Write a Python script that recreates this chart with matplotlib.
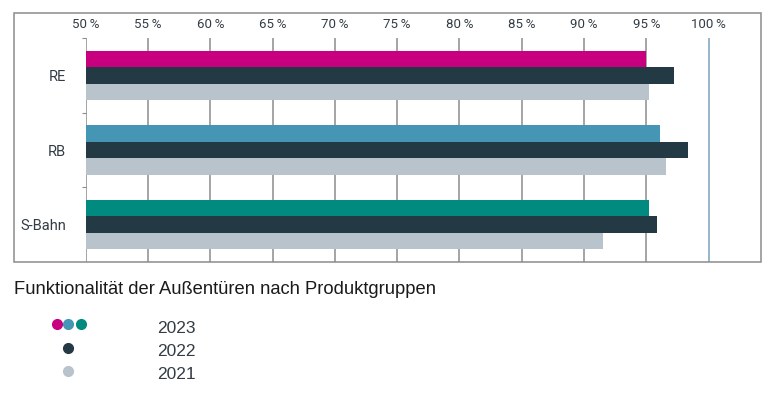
import matplotlib.pyplot as plt
from matplotlib.patches import Rectangle
from matplotlib.lines import Line2D
import numpy as np

categories = ["RE", "RB", "S-Bahn"]
years = ["2023", "2022", "2021"]
values_2023 = [95.0, 96.1, 95.2]
values_2022 = [97.2, 98.3, 95.85]
values_2021 = [95.2, 96.6, 91.5]
tick_values = [50, 55, 60, 65, 70, 75, 80, 85, 90, 95, 100]
tick_labels = ["50\u2009%", "55\u2009%", "60\u2009%", "65\u2009%", "70\u2009%", "75\u2009%",
               "80\u2009%", "85\u2009%", "90\u2009%", "95\u2009%", "100\u2009%"]

colors_2023 = ["#c8007f", "#4496b4", "#008a80"]
color_2022 = "#233943"
color_2021 = "#b9c3cc"
grid_color = "#8c8c8c"
text_color = "#333c44"

W, H = 783, 404


def fx(px):
    return px / W


def fy(py):
    return 1 - py / H


def main():
    fig = plt.figure(figsize=(W / 100, H / 100), dpi=100)
    left, right, top, bottom = 85.7, 761.3, 38, 262
    ax = fig.add_axes([fx(left), fy(bottom), fx(right - left), (bottom - top) / H])

    y = np.arange(len(categories))
    h = 0.22
    ax.barh(y - h, values_2023, height=h, color=colors_2023, zorder=3)
    ax.barh(y, values_2022, height=h, color=color_2022, zorder=3)
    ax.barh(y + h, values_2021, height=h, color=color_2021, zorder=3)

    ax.set_xlim(50, 50 + (right - left) / 12.46)
    ax.set_ylim(2.5, -0.5)

    for t in tick_values[:-1]:
        ax.axvline(t, color=grid_color, lw=1.1, zorder=1)
    ax.axvline(100, color="#7ba2ba", lw=1.1, zorder=1)

    ax.xaxis.tick_top()
    ax.set_xticks(tick_values)
    ax.set_xticklabels(tick_labels, family=["Roboto", "DejaVu Sans"], fontsize=9.5,
                       color=text_color)
    ax.tick_params(axis="x", length=0, pad=5)

    ax.set_yticks(y)
    ax.set_yticklabels(categories, family="Roboto", fontsize=10.5, color=text_color)
    ax.tick_params(axis="y", length=0, pad=14)
    ax.set_yticks([-0.5, 0.5, 1.5], minor=True)
    ax.tick_params(axis="y", which="minor", length=3, color=grid_color, width=0.8)

    for s in ax.spines.values():
        s.set_visible(False)

    # outer frame
    fig.add_artist(Rectangle((fx(14), fy(262)), fx(761.3 - 14), (262 - 13) / H,
                             transform=fig.transFigure, fill=False,
                             edgecolor=grid_color, lw=1.1))

    fig.text(fx(14), fy(289), "Funktionalität der Außentüren nach Produktgruppen",
             family="Liberation Sans", fontsize=13.2, color="#1a1a1a", va="center")

    # legend
    for xp, c in zip([56.7, 68.3, 81], colors_2023):
        fig.add_artist(Line2D([fx(xp)], [fy(324.3)], marker="o", ms=7, color=c,
                              transform=fig.transFigure, lw=0))
    fig.add_artist(Line2D([fx(68.3)], [fy(348)], marker="o", ms=7, color=color_2022,
                          transform=fig.transFigure, lw=0))
    fig.add_artist(Line2D([fx(68.3)], [fy(371)], marker="o", ms=7, color=color_2021,
                          transform=fig.transFigure, lw=0))
    for yp, lab in zip([328.5, 351.5, 374.5], years):
        fig.text(fx(157), fy(yp), lab, family="Liberation Sans", fontsize=12.5,
                 color=text_color, va="center")

    fig.savefig("out.png", dpi=100)


if __name__ == "__main__":
    main()
